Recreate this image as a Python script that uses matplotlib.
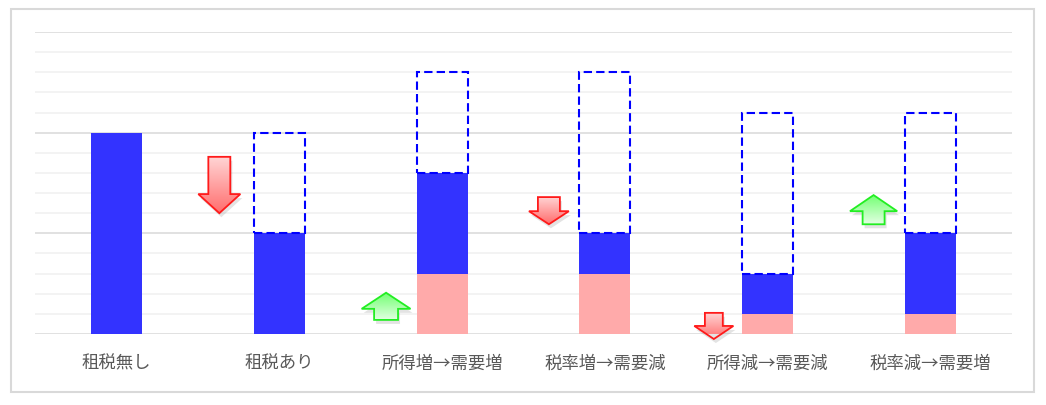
import numpy as np
import matplotlib
matplotlib.use("Agg")
import matplotlib.pyplot as plt
from matplotlib.patches import Polygon, Rectangle
from matplotlib.colors import LinearSegmentedColormap
from matplotlib.transforms import offset_copy

plt.rcParams['font.family'] = ['Noto Sans CJK JP', 'DejaVu Sans']

# data
categories = ['租税無し', '租税あり', '所得増→需要増', '税率増→需要減', '所得減→需要減', '税率減→需要増']
tax = [0, 0, 3, 3, 1, 1]          # pink part
net = [10, 5, 5, 2, 2, 4]         # blue part
lost = [0, 5, 5, 8, 8, 6]         # dashed box above

# arrows: x centre, tail y, tip y, head base y, head width, shaft width
arrow_x = [0.632, 1.656, 2.656, 3.669, 4.65]
arrow_tail = [8.8, 0.7, 6.8, 1.05, 5.45]
arrow_tip = [6.0, 2.05, 5.45, -0.25, 6.9]
arrow_head = [6.95, 1.25, 6.1, 0.4, 6.1]
arrow_hw = [0.258, 0.30, 0.245, 0.24, 0.29]
arrow_sw = [0.135, 0.147, 0.135, 0.11, 0.135]

fig = plt.figure(figsize=(10.46, 4.06), dpi=100)
ax = fig.add_axes([35 / 1046, (406 - 335) / 406, 977 / 1046, 302 / 406])

# outer frame
fig.patches.append(Rectangle((11 / 1046, 13 / 406), 1023 / 1046, 383 / 406,
                             transform=fig.transFigure, fill=False,
                             edgecolor='#d9d9d9', linewidth=1.5))

# grid
for v in range(0, 16):
    if v % 5 == 0:
        ax.axhline(v, color='#d9d9d9', lw=1.1, zorder=0.5)
    else:
        ax.axhline(v, color='#f0f0f0', lw=1.1, zorder=0.4)

x = np.arange(len(categories))
w = 0.313
ax.bar(x, tax, w, color='#ffaaaa', zorder=2)
ax.bar(x, net, w, bottom=tax, color='#3333ff', zorder=2)
tops = np.array(tax) + np.array(net)
idx = [i for i in range(len(lost)) if lost[i] > 0]
ax.bar(x[idx], [lost[i] for i in idx], w, bottom=tops[idx], fill=False,
       edgecolor='#0000ff', linewidth=1.5, linestyle=(0, (4, 2)), zorder=3)

red_cmap = LinearSegmentedColormap.from_list('r', ['#ffd6d6', '#ff6e6e'])
green_cmap = LinearSegmentedColormap.from_list('g', ['#e2ffe2', '#70ff70'])

for i in range(len(arrow_x)):
    cx, t0, t1, hb = arrow_x[i], arrow_tail[i], arrow_tip[i], arrow_head[i]
    hw, sw = arrow_hw[i] / 2, arrow_sw[i] / 2
    pts = [(cx - sw, t0), (cx + sw, t0), (cx + sw, hb), (cx + hw, hb),
           (cx, t1), (cx - hw, hb), (cx - sw, hb)]
    down = t1 < t0
    edge = '#ff1a1a' if down else '#22ee22'
    cmap = red_cmap if down else green_cmap
    shadow = Polygon(pts, closed=True, facecolor='#808080', alpha=0.22, edgecolor='none',
                     transform=offset_copy(ax.transData, fig, x=2, y=-4, units='dots'),
                     zorder=4, clip_on=False)
    ax.add_patch(shadow)
    poly = Polygon(pts, closed=True, facecolor='none', edgecolor=edge, linewidth=1.3,
                   zorder=6, clip_on=False)
    ax.add_patch(poly)
    grad = np.linspace(0, 1, 100).reshape(-1, 1)
    lo, hi = min(t0, t1), max(t0, t1)
    if not down:
        grad = grad[::-1]
    im = ax.imshow(grad, cmap=cmap, extent=[cx - hw, cx + hw, lo, hi], origin='upper',
                   aspect='auto', zorder=5, interpolation='bilinear')
    im.set_clip_path(poly)
    im.set_clip_box(None)

ax.set_xlim(-0.5, 5.5)
ax.set_ylim(0, 15)
ax.set_xticks(x)
ax.set_xticklabels(categories, fontsize=12.5, color='#595959')
ax.tick_params(axis='x', length=0, pad=14)
ax.set_yticks([])
for s in ax.spines.values():
    s.set_visible(False)

fig.savefig('out.png', dpi=100)
